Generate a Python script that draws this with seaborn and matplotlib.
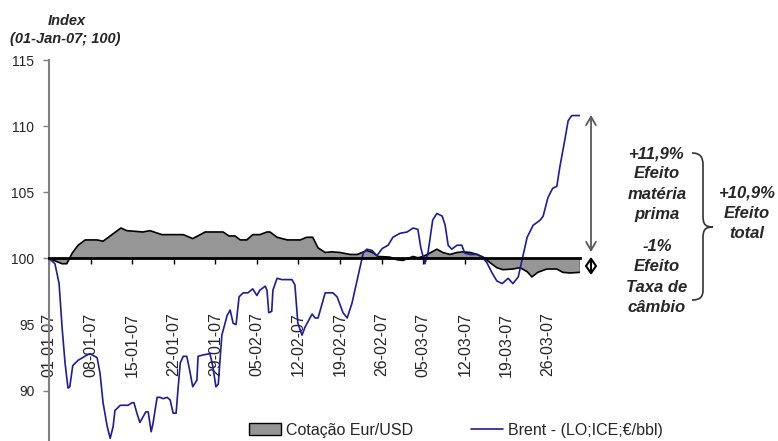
import matplotlib
matplotlib.use("Agg")
import matplotlib.pyplot as plt
import matplotlib.transforms as mtransforms
from matplotlib.path import Path
from matplotlib.patches import PathPatch, FancyArrowPatch, Patch
from matplotlib.lines import Line2D
import seaborn as sns
import pandas as pd

# ---------------- data ----------------
# x = days since 01-01-07
brent_days = [0, 1.0, 1.7, 2.2, 2.7, 3.2, 3.5, 4.0, 4.9, 6.4, 6.9, 8.1, 8.6, 9.1, 9.8, 10.3,
              10.8, 11.1, 12.0, 13.3, 14.0, 14.3, 14.8, 15.3, 16.3, 16.7, 17.2, 17.5, 18.2,
              18.7, 19.2, 19.9, 20.4, 20.9, 21.4, 21.7, 22.1, 22.6, 23.2, 23.7, 24.2, 24.9,
              25.1, 25.9, 27.1, 27.6, 28.1, 28.5, 29.1, 30.0, 30.5, 31.0, 31.5, 32.0, 32.7,
              33.5, 34.3, 35.0, 35.5, 36.4, 36.7, 37.0, 37.5, 37.7, 38.4, 39.2, 40.9, 41.4,
              41.9, 42.6, 43.1, 44.3, 44.8, 45.3, 46.0, 46.5, 47.8, 48.5, 49.5, 50.2, 51.0,
              52.0, 52.9, 53.5, 54.4, 55.2, 56.1, 57.1, 57.9, 59.1, 60.3, 61.3, 62.1, 62.6,
              63.3, 63.8, 64.6, 65.3, 66.2, 66.7, 67.2, 67.8, 68.7, 69.5, 70.0, 70.9, 72.1,
              72.9, 73.7, 74.6, 75.4, 76.3, 77.3, 78.1, 79.0, 79.6, 80.5, 81.5, 82.7, 83.2,
              84.0, 84.8, 85.5, 86.0, 86.9, 87.4, 88.0, 89.4]
brent_vals = [100, 99.6, 98.1, 94.8, 92.1, 90.2, 90.3, 91.9, 92.3, 92.7, 92.8, 92.5, 91.3, 89.1,
              87.3, 86.4, 87.3, 88.5, 88.9, 88.9, 89.1, 89.1, 88.3, 87.6, 88.4, 88.4, 86.9, 87.5,
              89.5, 89.5, 89.4, 89.5, 89.3, 88.3, 88.3, 90.0, 92.1, 92.6, 92.6, 91.5, 90.3, 90.8,
              92.6, 92.7, 92.8, 91.8, 90.3, 90.5, 94.2, 95.7, 96.1, 95.1, 95.0, 97.1, 97.4, 97.4,
              97.7, 97.2, 97.6, 97.9, 97.6, 95.9, 96.0, 97.6, 98.5, 98.4, 98.4, 98.0, 95.1, 94.2,
              94.8, 95.8, 95.5, 95.5, 96.6, 97.4, 97.4, 97.1, 95.9, 95.5, 96.6, 98.6, 100.4,
              100.7, 100.6, 100.2, 100.75, 101.0, 101.6, 101.9, 102.0, 102.3, 102.2, 100.8, 99.6,
              100.4, 102.9, 103.4, 103.2, 102.5, 101.0, 100.7, 101.0, 101.0, 100.4, 100.3, 100.3,
              100.1, 99.7, 98.9, 98.3, 98.1, 98.5, 98.1, 98.6, 99.8, 101.6, 102.5, 102.9, 103.2,
              104.6, 105.3, 105.45, 106.9, 109.1, 110.4, 110.8, 110.8]

fx_days = [0, 2.2, 3.0, 3.9, 4.9, 6.1, 8.1, 9.1, 10.3, 12.1, 13.1, 15.8, 17.0, 19.0, 22.6, 24.2,
           26.3, 29.3, 30.3, 31.3, 32.2, 33.3, 34.3, 35.5, 36.7, 37.2, 38.4, 40.1, 42.3, 43.4,
           44.4, 45.3, 46.5, 47.6, 49.0, 50.7, 51.9, 53.5, 54.5, 55.4, 57.4, 58.6, 59.6, 61.3,
           62.1, 63.0, 64.1, 65.3, 66.3, 67.5, 68.7, 69.7, 70.9, 72.1, 73.1, 74.2, 75.4, 76.4,
           78.1, 79.3, 80.5, 81.3, 82.3, 83.8, 85.5, 86.5, 87.7, 89.4]
fx_vals = [100, 99.6, 99.6, 100.4, 101.0, 101.4, 101.4, 101.3, 101.7, 102.3, 102.1, 102.0, 102.1,
           101.8, 101.8, 101.5, 102.0, 102.0, 101.7, 101.7, 101.4, 101.4, 101.8, 101.8, 102.0,
           102.0, 101.6, 101.4, 101.4, 101.6, 101.6, 100.8, 100.45, 100.5, 100.45, 100.3, 100.3,
           100.6, 100.45, 100.15, 100.1, 99.9, 99.85, 100.15, 100.05, 100.15, 100.4, 100.7,
           100.45, 100.3, 100.45, 100.5, 100.45, 100.3, 100.1, 99.7, 99.3, 99.15, 99.2, 99.3,
           99.0, 98.6, 98.95, 99.2, 99.2, 98.95, 98.9, 98.95]

tick_days = [0, 7, 14, 21, 28, 35, 42, 49, 56, 63, 70, 77, 84]
tick_labels = ["01-01-07", "08-01-07", "15-01-07", "22-01-07", "29-01-07", "05-02-07",
               "12-02-07", "19-02-07", "26-02-07", "05-03-07", "12-03-07", "19-03-07", "26-03-07"]
y_ticks = [90, 95, 100, 105, 110, 115]

series_names = ["Cotação Eur/USD", "Brent - (LO;ICE;€/bbl)"]
note_raw = "+11,9%\nEfeito\nmatéria\nprima"
note_fx = "-1%\nEfeito\nTaxa de\ncâmbio"
note_total = "+10,9%\nEfeito\ntotal"

# ---------------- style ----------------
sns.set_style("white")
plt.rcParams["font.family"] = ["Liberation Sans", "DejaVu Sans"]

W, H = 778, 441
fig = plt.figure(figsize=(W / 100, H / 100), dpi=100)
ax = fig.add_axes([49 / W, 0, 531 / W, 1 - 60 / H])

# pixel transform (reference pixel coords, origin top-left)
pix = mtransforms.Affine2D().scale(1 / W, -1 / H).translate(0, 1) + fig.transFigure

fx_df = pd.DataFrame({"day": fx_days, "val": fx_vals})
br_df = pd.DataFrame({"day": brent_days, "val": brent_vals})

ax.fill_between(fx_df["day"], fx_df["val"], 100, facecolor="#969696", edgecolor="none", zorder=2)
sns.lineplot(data=fx_df, x="day", y="val", ax=ax, color="black", lw=1.2, zorder=3, sort=False)
ax.plot([fx_days[-1], fx_days[-1]], [100, fx_vals[-1]], color="black", lw=1.0, zorder=3)
sns.lineplot(data=br_df, x="day", y="val", ax=ax, color="#1c1c9c", lw=1.2, zorder=4, sort=False)

ax.set_xlim(0, 89.4)
ax.set_ylim(86.2, 115)
ax.set_xlabel("")
ax.set_ylabel("")

for s in ["top", "right"]:
    ax.spines[s].set_visible(False)
ax.spines["bottom"].set_position(("data", 100))
ax.spines["bottom"].set_color("black")
ax.spines["bottom"].set_linewidth(2)
ax.spines["bottom"].set_zorder(5)
ax.spines["left"].set_color("#808080")
ax.spines["left"].set_linewidth(1.5)

ax.set_xticks(tick_days)
ax.set_xticklabels(tick_labels, rotation=90, fontsize=11.5)
ax.tick_params(axis="x", direction="out", length=4, width=1, color="black", pad=35,
               bottom=True)
ax.set_yticks(y_ticks)
ax.set_yticklabels([str(v) for v in y_ticks], fontsize=10)
ax.tick_params(axis="y", direction="out", length=4, width=1, color="#808080", pad=6.5,
               left=True)

# legend
if ax.get_legend():
    ax.get_legend().remove()
h = [Patch(facecolor="#969696", edgecolor="black", lw=1.0),
     Line2D([0], [0], color="#1c1c9c", lw=1.2)]
fig.legend(h, series_names, loc="center", bbox_to_anchor=(456 / W, 1 - 430 / H), ncol=2,
           frameon=False, fontsize=11.5, handlelength=2.0, handleheight=0.7,
           handletextpad=0.35, columnspacing=3.6, borderaxespad=0)

# title
fig.text(67 / W, 1 - 21 / H, "Index", ha="center", va="center", fontsize=10.5,
         fontweight="bold", fontstyle="italic")
fig.text(65 / W, 1 - 39 / H, "(01-Jan-07; 100)", ha="center", va="center", fontsize=10.5,
         fontweight="bold", fontstyle="italic")

# arrows
a1 = FancyArrowPatch((591, 115), (591, 252), transform=pix,
                     arrowstyle="<->,head_length=6,head_width=3.5",
                     color="#595959", lw=1.3, shrinkA=0, shrinkB=0)
fig.add_artist(a1)
a2 = FancyArrowPatch((591, 257), (591, 275), transform=pix,
                     arrowstyle="<->,head_length=5,head_width=3.5",
                     color="black", lw=1.5, shrinkA=0, shrinkB=0)
fig.add_artist(a2)

# brace
verts = [(692, 153), (700, 153), (703, 157), (703, 165),
         (703, 216), (703, 224), (705, 227), (713, 227),
         (705, 227), (703, 230), (703, 238),
         (703, 290), (703, 297), (700, 300), (692, 300)]
codes = [Path.MOVETO, Path.CURVE4, Path.CURVE4, Path.CURVE4,
         Path.LINETO, Path.CURVE4, Path.CURVE4, Path.CURVE4,
         Path.CURVE4, Path.CURVE4, Path.CURVE4,
         Path.LINETO, Path.CURVE4, Path.CURVE4, Path.CURVE4]
brace = PathPatch(Path(verts, codes), transform=pix, facecolor="none", edgecolor="#333333", lw=1.2)
fig.add_artist(brace)

# notes
kw = dict(ha="center", va="center", fontsize=12, fontweight="bold", fontstyle="italic",
          linespacing=1.42)
fig.text(657 / W, 1 - 184 / H, note_raw, **kw)
fig.text(657 / W, 1 - 277 / H, note_fx, **kw)
fig.text(747 / W, 1 - 213 / H, note_total, **kw)

fig.savefig("out.png", dpi=100)
